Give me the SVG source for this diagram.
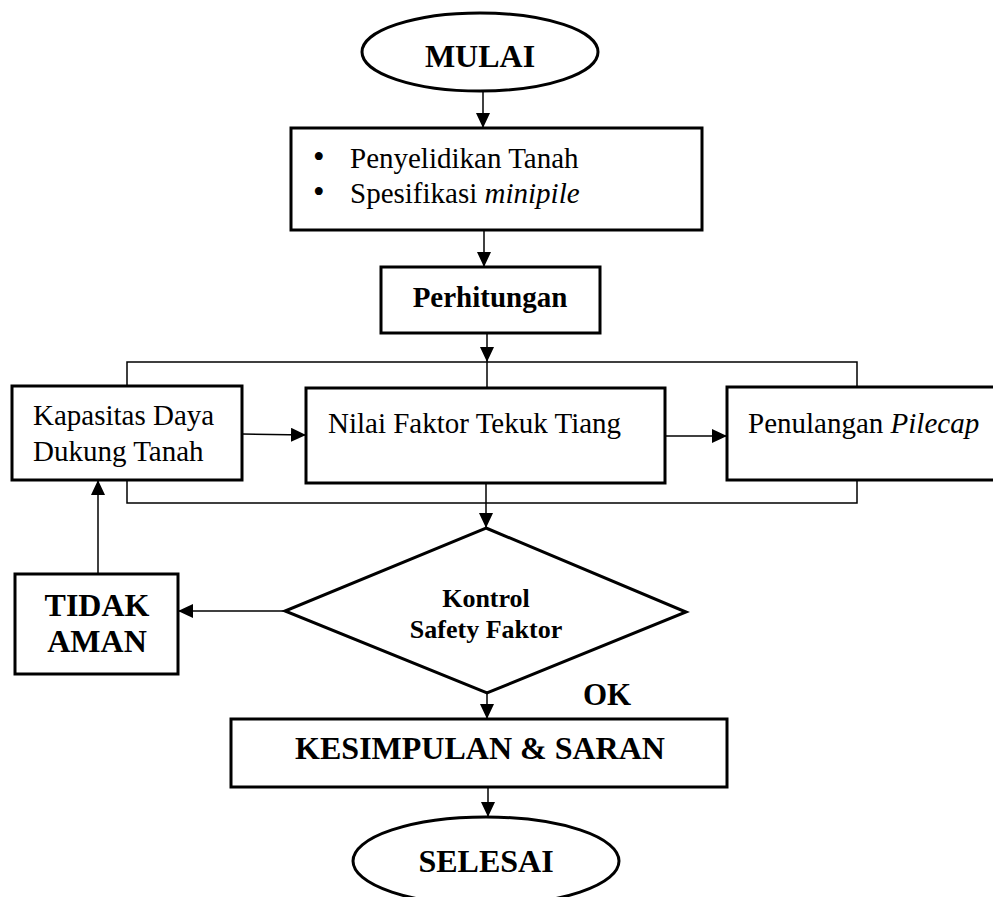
<svg xmlns="http://www.w3.org/2000/svg" width="993" height="897" viewBox="0 0 993 897">
<defs>
<marker id="arr" markerUnits="userSpaceOnUse" markerWidth="15" markerHeight="14" refX="15" refY="7" orient="auto">
<path d="M0,0 L15,7 L0,14 z" fill="#000"/>
</marker>
<style>
.box{fill:#fff;stroke:#000;stroke-width:3}
.ln{fill:none;stroke:#000;stroke-width:1.5}
.ar{fill:none;stroke:#000;stroke-width:1.5;marker-end:url(#arr)}
.t{font-family:"Liberation Serif","Times New Roman",serif;font-size:29px;fill:#000}
.b{font-family:"Liberation Serif","Times New Roman",serif;font-weight:bold;font-size:32px;fill:#000}
.m{text-anchor:middle}
.bul{font-size:33px}
</style>
</defs>
<rect width="993" height="897" fill="#fff"/>
<g id="connectors">
<line class="ar" x1="483" y1="91" x2="483" y2="128"/>
<line class="ar" x1="484" y1="230" x2="484" y2="267"/>
<line class="ar" x1="487" y1="333" x2="487" y2="362"/>
<line class="ln" x1="487" y1="362" x2="487" y2="388"/>
<polyline class="ln" points="127,386 127,362 857,362 857,387"/>
<line class="ar" x1="242" y1="434" x2="306" y2="435"/>
<line class="ar" x1="665" y1="436" x2="727" y2="436"/>
<polyline class="ln" points="127,480 127,503 857,503 857,480"/>
<line class="ar" x1="486" y1="483" x2="486" y2="528"/>
<line class="ar" x1="285" y1="611" x2="178" y2="611"/>
<line class="ar" x1="98" y1="574" x2="98" y2="480"/>
<line class="ar" x1="487" y1="693" x2="487" y2="719"/>
<line class="ar" x1="488" y1="787" x2="488" y2="817"/>
</g>
<g id="mulai">
<ellipse class="box" cx="480" cy="52" rx="118" ry="39"/>
<text class="b m" x="480" y="67">MULAI</text>
</g>
<g id="input">
<rect class="box" x="291" y="128" width="411" height="102"/>
<text class="t" y="168"><tspan class="bul" x="313">•</tspan><tspan x="350">Penyelidikan Tanah</tspan></text>
<text class="t" y="203"><tspan class="bul" x="313">•</tspan><tspan x="350">Spesifikasi </tspan><tspan font-style="italic">minipile</tspan></text>
</g>
<g id="perhitungan">
<rect class="box" x="381" y="267" width="219" height="66"/>
<text class="b m" x="490" y="307" style="font-size:29px">Perhitungan</text>
</g>
<g id="kapasitas">
<rect class="box" x="12" y="386" width="230" height="94"/>
<text class="t" x="33" y="425">Kapasitas Daya</text>
<text class="t" x="33" y="461">Dukung Tanah</text>
</g>
<g id="nilai">
<rect class="box" x="306" y="388" width="359" height="95"/>
<text class="t" x="328" y="433">Nilai Faktor Tekuk Tiang</text>
</g>
<g id="penulangan">
<rect class="box" x="727" y="387" width="280" height="93"/>
<text class="t" x="748" y="433">Penulangan <tspan font-style="italic">Pilecap</tspan></text>
</g>
<g id="kontrol">
<polygon class="box" points="486,528 686,612 487,693 285,611"/>
<text class="b m" x="486" y="607" style="font-size:26px">Kontrol</text>
<text class="b m" x="486" y="638" style="font-size:26px">Safety Faktor</text>
</g>
<g id="tidak-aman">
<rect class="box" x="15" y="574" width="163" height="100"/>
<text class="b m" x="97" y="616">TIDAK</text>
<text class="b m" x="97" y="652">AMAN</text>
</g>
<g id="ok-label">
<text class="b" x="583" y="705" style="font-size:31px">OK</text>
</g>
<g id="kesimpulan">
<rect class="box" x="231" y="719" width="496" height="68"/>
<text class="b m" x="480" y="759">KESIMPULAN &amp; SARAN</text>
</g>
<g id="selesai">
<ellipse class="box" cx="486" cy="861" rx="133" ry="44"/>
<text class="b m" x="486" y="872">SELESAI</text>
</g>
</svg>
